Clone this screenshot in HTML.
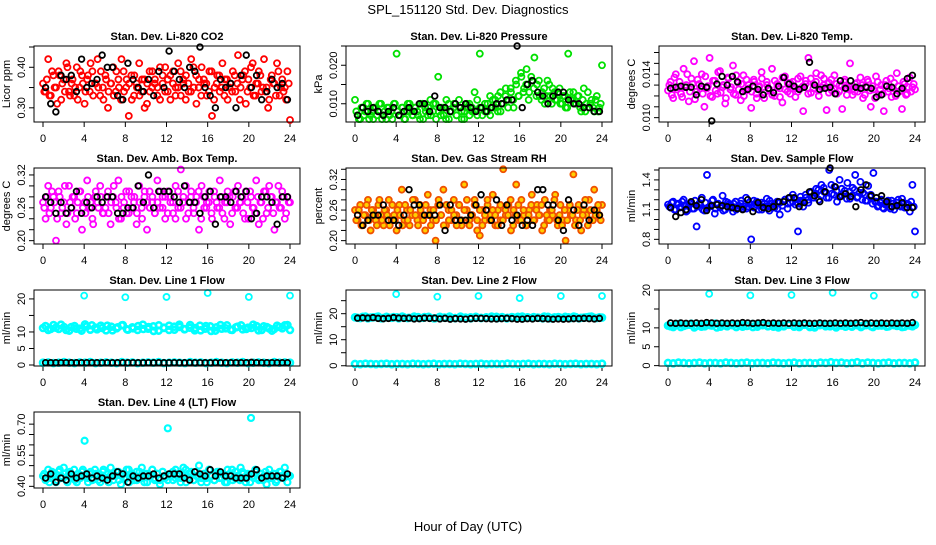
<!DOCTYPE html>
<html><head><meta charset="utf-8"><style>
body{margin:0;background:#fff}
svg text{font-family:"Liberation Sans",sans-serif}
</style></head><body>
<svg id="chart" width="936" height="540" viewBox="0 0 936 540" xmlns="http://www.w3.org/2000/svg">
<rect width="936" height="540" fill="#fff"/>
<text x="468" y="14" font-size="13" text-anchor="middle">SPL_151120  Std. Dev. Diagnostics</text>
<text x="468" y="531" font-size="13" text-anchor="middle">Hour of Day (UTC)</text>
</svg>
<script>
const xTicks=[0,4,8,12,16,20,24];
const co2Col=[0.36,0.34,0.42,0.33,0.38,0.35,0.39,0.32,0.37,0.41,0.34,0.36,0.33,0.40,0.35,0.38,0.31,0.37,0.34,0.39,0.36,0.42,0.33,0.35,0.38,0.30,0.36,0.40,0.34,0.37,0.32,0.39,0.35,0.28,0.38,0.33,0.36,0.41,0.34,0.37,0.31,0.39,0.35,0.36,0.33,0.40,0.38,0.34,0.37,0.32,0.39,0.35,0.41,0.33,0.36,0.38,0.34,0.42,0.35,0.31,0.37,0.40,0.36,0.33,0.39,0.28,0.35,0.38,0.34,0.41,0.37,0.32,0.36,0.39,0.34,0.43,0.35,0.38,0.31,0.37,0.40,0.33,0.36,0.39,0.34,0.42,0.35,0.32,0.38,0.36,0.41,0.33,0.37,0.35,0.39,0.27];
const co2Col2=[0.34,0.37,0.33,0.39,0.35,0.31,0.38,0.36,0.34,0.40,0.33,0.37,0.35,0.32,0.39,0.36,0.34,0.38,0.41,0.33,0.36,0.35,0.39,0.32,0.37,0.34,0.36,0.33,0.39,0.35,0.42,0.34,0.37,0.36,0.32,0.38,0.35,0.33,0.37,0.30,0.36,0.34,0.39,0.37,0.35,0.32,0.36,0.40,0.34,0.38,0.36,0.33,0.35,0.39,0.37,0.32,0.36,0.34,0.40,0.38,0.35,0.33,0.37,0.36,0.34,0.39,0.32,0.36,0.38,0.35,0.33,0.37,0.35,0.34,0.38,0.36,0.32,0.37,0.39,0.34,0.35,0.41,0.33,0.36,0.38,0.35,0.34,0.30,0.37,0.36,0.33,0.39,0.35,0.34,0.32,0.36];
const co2Blk=[0.35,0.31,0.29,0.38,0.37,0.38,0.34,0.42,0.35,0.36,0.37,0.43,0.40,0.40,0.33,0.32,0.41,0.37,0.35,0.34,0.37,0.33,0.39,0.35,0.44,0.39,0.37,0.35,0.40,0.39,0.45,0.35,0.33,0.30,0.37,0.35,0.36,0.30,0.38,0.43,0.35,0.38,0.32,0.34,0.37,0.35,0.36,0.32];
const presCol=[0.011,0.007,0.006,0.009,0.008,0.010,0.007,0.006,0.009,0.008,0.010,0.007,0.006,0.009,0.008,0.010,0.023,0.007,0.009,0.006,0.008,0.010,0.007,0.009,0.008,0.006,0.010,0.009,0.007,0.011,0.008,0.010,0.017,0.007,0.009,0.006,0.010,0.008,0.009,0.007,0.011,0.008,0.006,0.009,0.010,0.008,0.013,0.007,0.023,0.009,0.008,0.010,0.007,0.011,0.009,0.012,0.008,0.010,0.014,0.011,0.013,0.009,0.015,0.012,0.017,0.014,0.019,0.013,0.016,0.022,0.015,0.012,0.013,0.010,0.016,0.012,0.014,0.011,0.013,0.010,0.012,0.009,0.023,0.011,0.013,0.010,0.012,0.008,0.014,0.010,0.009,0.011,0.008,0.012,0.009,0.020];
const presCol2=[0.008,0.006,0.009,0.007,0.010,0.006,0.008,0.009,0.007,0.010,0.006,0.008,0.009,0.007,0.006,0.010,0.008,0.007,0.009,0.006,0.010,0.008,0.007,0.009,0.007,0.010,0.006,0.008,0.009,0.007,0.010,0.006,0.008,0.009,0.007,0.011,0.006,0.008,0.010,0.007,0.009,0.006,0.008,0.010,0.007,0.009,0.008,0.011,0.009,0.007,0.010,0.008,0.012,0.009,0.011,0.008,0.013,0.010,0.012,0.009,0.014,0.011,0.016,0.012,0.018,0.013,0.015,0.011,0.017,0.014,0.012,0.016,0.011,0.014,0.012,0.015,0.010,0.013,0.011,0.014,0.010,0.012,0.009,0.013,0.011,0.010,0.012,0.009,0.011,0.008,0.013,0.010,0.009,0.011,0.008,0.010];
const presBlk=[0.007,0.009,0.008,0.009,0.008,0.007,0.008,0.009,0.007,0.008,0.009,0.008,0.010,0.010,0.008,0.012,0.009,0.009,0.008,0.010,0.009,0.010,0.009,0.008,0.009,0.008,0.009,0.010,0.010,0.011,0.011,0.025,0.009,0.015,0.016,0.013,0.012,0.010,0.012,0.013,0.013,0.011,0.010,0.010,0.009,0.009,0.008,0.008];
const tempCol=[0.0125,0.0133,0.0118,0.0140,0.0128,0.0122,0.0145,0.0130,0.0115,0.0136,0.0152,0.0124,0.0131,0.0140,0.0110,0.0127,0.0155,0.0119,0.0134,0.0122,0.0143,0.0128,0.0113,0.0137,0.0126,0.0148,0.0121,0.0132,0.0116,0.0139,0.0125,0.0130,0.0109,0.0135,0.0122,0.0128,0.0142,0.0118,0.0133,0.0126,0.0145,0.0120,0.0131,0.0127,0.0114,0.0138,0.0124,0.0132,0.0129,0.0119,0.0136,0.0127,0.0106,0.0134,0.0155,0.0123,0.0131,0.0141,0.0120,0.0128,0.0136,0.0107,0.0132,0.0125,0.0139,0.0122,0.0130,0.0108,0.0135,0.0127,0.0150,0.0121,0.0131,0.0124,0.0137,0.0118,0.0129,0.0133,0.0110,0.0126,0.0138,0.0121,0.0130,0.0106,0.0134,0.0127,0.0119,0.0132,0.0141,0.0124,0.0108,0.0131,0.0122,0.0137,0.0128,0.0126];
const tempCol2=[0.0130,0.0121,0.0137,0.0126,0.0133,0.0119,0.0128,0.0140,0.0124,0.0131,0.0117,0.0135,0.0127,0.0122,0.0138,0.0129,0.0120,0.0134,0.0125,0.0142,0.0123,0.0130,0.0118,0.0136,0.0128,0.0122,0.0139,0.0126,0.0131,0.0120,0.0135,0.0127,0.0124,0.0133,0.0118,0.0129,0.0136,0.0123,0.0130,0.0125,0.0121,0.0134,0.0128,0.0119,0.0137,0.0126,0.0132,0.0122,0.0133,0.0127,0.0124,0.0138,0.0129,0.0131,0.0122,0.0136,0.0127,0.0133,0.0125,0.0139,0.0130,0.0128,0.0123,0.0135,0.0127,0.0131,0.0124,0.0129,0.0133,0.0121,0.0128,0.0126,0.0124,0.0132,0.0127,0.0130,0.0121,0.0135,0.0125,0.0129,0.0118,0.0133,0.0126,0.0122,0.0130,0.0124,0.0136,0.0127,0.0120,0.0129,0.0125,0.0133,0.0121,0.0128,0.0124,0.0131];
const tempBlk=[0.0127,0.0128,0.0129,0.0128,0.0128,0.0121,0.0129,0.0128,0.0097,0.0131,0.0138,0.0130,0.0138,0.0133,0.0124,0.0126,0.0129,0.0126,0.0121,0.0127,0.0123,0.0129,0.0137,0.0131,0.0129,0.0126,0.0128,0.0151,0.0130,0.0126,0.0127,0.0128,0.0122,0.0134,0.0127,0.0134,0.0128,0.0127,0.0128,0.0127,0.0119,0.0121,0.0129,0.0128,0.0122,0.0127,0.0136,0.0139];
const ambCol=[0.27,0.24,0.30,0.26,0.28,0.20,0.29,0.25,0.27,0.23,0.30,0.26,0.28,0.25,0.29,0.22,0.27,0.31,0.26,0.24,0.28,0.27,0.30,0.25,0.26,0.29,0.23,0.28,0.27,0.31,0.24,0.26,0.29,0.25,0.28,0.27,0.23,0.30,0.26,0.28,0.22,0.29,0.27,0.25,0.31,0.26,0.28,0.24,0.29,0.27,0.25,0.30,0.26,0.33,0.28,0.24,0.27,0.29,0.25,0.28,0.22,0.30,0.26,0.27,0.29,0.24,0.28,0.26,0.31,0.25,0.27,0.29,0.23,0.28,0.26,0.30,0.27,0.25,0.29,0.24,0.28,0.26,0.31,0.23,0.27,0.29,0.25,0.30,0.28,0.22,0.27,0.26,0.29,0.24,0.28,0.27];
const ambCol2=[0.26,0.28,0.25,0.29,0.27,0.24,0.28,0.26,0.30,0.25,0.27,0.28,0.24,0.27,0.29,0.26,0.25,0.28,0.27,0.23,0.29,0.26,0.28,0.25,0.28,0.25,0.27,0.30,0.26,0.24,0.28,0.27,0.25,0.29,0.26,0.28,0.25,0.27,0.24,0.29,0.27,0.26,0.28,0.25,0.27,0.29,0.26,0.28,0.25,0.28,0.27,0.24,0.29,0.26,0.27,0.30,0.25,0.28,0.26,0.27,0.29,0.24,0.28,0.26,0.27,0.25,0.29,0.27,0.26,0.28,0.24,0.27,0.28,0.25,0.29,0.26,0.27,0.28,0.24,0.27,0.29,0.26,0.25,0.28,0.27,0.24,0.29,0.26,0.28,0.25,0.27,0.30,0.26,0.28,0.25,0.27];
const ambBlk=[0.28,0.27,0.25,0.27,0.25,0.26,0.29,0.25,0.27,0.26,0.28,0.27,0.28,0.28,0.25,0.25,0.26,0.26,0.30,0.27,0.32,0.26,0.29,0.29,0.29,0.28,0.27,0.30,0.27,0.27,0.25,0.28,0.29,0.23,0.28,0.28,0.27,0.29,0.28,0.29,0.24,0.25,0.28,0.28,0.27,0.23,0.28,0.28];
const rhCol=[0.26,0.24,0.27,0.23,0.25,0.28,0.22,0.26,0.24,0.27,0.25,0.23,0.26,0.28,0.24,0.25,0.22,0.27,0.30,0.24,0.26,0.23,0.25,0.28,0.24,0.27,0.25,0.22,0.29,0.26,0.24,0.20,0.27,0.25,0.30,0.23,0.26,0.24,0.28,0.25,0.27,0.23,0.31,0.26,0.24,0.25,0.28,0.22,0.21,0.26,0.24,0.27,0.25,0.29,0.23,0.26,0.24,0.34,0.25,0.27,0.22,0.26,0.31,0.24,0.28,0.25,0.23,0.26,0.29,0.24,0.27,0.25,0.22,0.28,0.24,0.26,0.25,0.29,0.23,0.27,0.24,0.20,0.26,0.25,0.33,0.24,0.27,0.22,0.26,0.25,0.28,0.24,0.30,0.26,0.25,0.27];
const rhCol2=[0.24,0.26,0.23,0.25,0.27,0.24,0.26,0.25,0.23,0.28,0.24,0.26,0.25,0.23,0.27,0.24,0.26,0.25,0.23,0.27,0.24,0.26,0.28,0.25,0.23,0.26,0.24,0.27,0.25,0.23,0.26,0.24,0.28,0.25,0.23,0.27,0.24,0.26,0.25,0.23,0.27,0.24,0.26,0.28,0.23,0.25,0.27,0.24,0.26,0.23,0.25,0.28,0.24,0.26,0.25,0.23,0.27,0.24,0.26,0.25,0.28,0.23,0.25,0.27,0.24,0.26,0.23,0.25,0.27,0.24,0.26,0.25,0.27,0.23,0.25,0.24,0.26,0.28,0.24,0.25,0.23,0.26,0.24,0.27,0.25,0.23,0.26,0.24,0.25,0.28,0.23,0.26,0.24,0.25,0.27,0.24];
const rhBlk=[0.25,0.23,0.24,0.25,0.25,0.27,0.24,0.24,0.23,0.25,0.30,0.27,0.27,0.25,0.25,0.25,0.27,0.22,0.27,0.24,0.24,0.24,0.25,0.27,0.29,0.26,0.24,0.28,0.23,0.27,0.24,0.25,0.23,0.24,0.23,0.30,0.30,0.27,0.27,0.24,0.22,0.28,0.26,0.23,0.27,0.24,0.26,0.25];
const flowCol=[1.15,1.12,1.18,1.10,1.16,1.13,1.20,1.08,1.14,1.17,1.11,0.93,1.16,1.22,1.09,1.45,1.13,1.19,1.06,1.15,1.12,1.24,1.10,1.17,1.14,1.08,1.18,1.12,1.16,1.11,1.22,1.13,0.80,1.19,1.15,1.10,1.17,1.13,1.21,1.09,1.16,1.12,1.18,1.05,1.14,1.20,1.11,1.17,1.25,1.15,0.88,1.19,1.13,1.22,1.17,1.27,1.24,1.31,1.20,1.35,1.28,1.22,1.50,1.26,1.33,1.18,1.40,1.24,1.29,1.37,1.21,1.32,1.45,1.23,1.38,1.27,1.19,1.34,1.25,1.47,1.18,1.14,1.20,1.11,1.16,1.13,1.19,1.10,1.17,1.14,1.21,1.12,1.16,1.08,1.35,0.88];
const flowCol2=[1.13,1.17,1.10,1.15,1.12,1.18,1.14,1.09,1.16,1.11,1.19,1.13,1.15,1.10,1.17,1.12,1.14,1.20,1.11,1.16,1.13,1.09,1.18,1.15,1.12,1.16,1.10,1.14,1.19,1.13,1.11,1.17,1.15,1.12,1.18,1.14,1.10,1.16,1.13,1.19,1.12,1.15,1.11,1.17,1.14,1.20,1.16,1.22,1.18,1.21,1.16,1.23,1.19,1.25,1.20,1.28,1.22,1.26,1.30,1.24,1.32,1.27,1.22,1.35,1.25,1.29,1.23,1.31,1.26,1.21,1.28,1.24,1.30,1.22,1.27,1.20,1.25,1.19,1.23,1.16,1.18,1.13,1.17,1.12,1.15,1.19,1.11,1.16,1.14,1.20,1.13,1.17,1.12,1.15,1.18,1.13];
const flowBlk=[1.12,1.03,1.07,1.10,1.18,1.14,1.20,1.09,1.14,1.15,1.14,1.13,1.12,1.11,1.10,1.20,1.08,1.17,1.12,1.11,1.13,1.18,1.18,1.22,1.22,1.13,1.17,1.28,1.24,1.18,1.28,1.52,1.33,1.23,1.26,1.23,1.13,1.30,1.35,1.24,1.22,1.24,1.18,1.13,1.14,1.17,1.12,1.12];
const spikeHours=[4,8,12,16,20,24];
const l1Band=[11.2,10.6,12.1,10.9,11.5,10.4,11.8,11.0,12.3,10.7,11.3,11.9,10.5,11.6,11.1,12.0,10.8,11.4,10.6,12.2,11.0,11.7,10.4,11.3,11.9,10.7,11.5,10.9,12.1,11.2,10.5,11.8,10.3,11.4,11.0,12.0,10.6,11.6,10.8,11.3,12.2,10.5,11.7,11.1,10.9,11.5,12.0,10.6];
const l1Band2=[11.8,10.9,11.3,12.2,10.6,11.5,11.0,10.4,11.7,12.0,10.8,11.2,11.9,10.5,11.4,12.1,10.7,11.1,11.8,10.9,11.5,10.3,12.0,11.2,10.6,11.6,12.2,10.8,11.3,10.5,11.9,11.0,11.7,10.4,12.1,11.1,10.7,11.4,12.0,10.9,11.2,11.8,10.6,11.5,10.4,11.9,11.1,12.1];
const l1Low=[0.7,0.8,0.6,0.7,0.9,0.7,0.6,0.8,0.7,0.9,0.6,0.7,0.8,0.7,0.6,0.9,0.7,0.8,0.6,0.7,0.8,0.7,0.9,0.6,0.7,0.8,0.7,0.6,0.9,0.7,0.8,0.6,0.7,0.9,0.7,0.6,0.8,0.7,0.9,0.6,0.7,0.8,0.7,0.6,0.9,0.7,0.8,0.7];
const l1Spike=[21.0,20.5,20.6,21.8,20.6,21.0];
const l1Blk=[0.7,0.7,0.7,0.7,0.7,0.7,0.7,0.7,0.7,0.7,0.7,0.7,0.7,0.7,0.7,0.7,0.7,0.7,0.7,0.7,0.7,0.7,0.7,0.7,0.7,0.7,0.7,0.7,0.7,0.7,0.7,0.7,0.7,0.7,0.7,0.7,0.7,0.7,0.7,0.7,0.8,0.7,0.7,0.7,0.7,0.7,0.7,0.7];
const l2Band=[18.6,18.3,18.9,18.5,18.7,18.2,18.8,18.4,18.6,18.9,18.3,18.5,18.7,18.4,18.8,18.2,18.6,18.5,18.9,18.3,18.7,18.4,18.6,18.8,18.3,18.5,18.9,18.2,18.7,18.4,18.6,18.8,18.3,18.5,18.7,18.4,18.9,18.2,18.6,18.5,18.8,18.3,18.7,18.4,18.6,18.9,18.3,18.5];
const l2Band2=[18.4,18.8,18.2,18.6,18.9,18.3,18.5,18.7,18.2,18.6,18.4,18.9,18.3,18.7,18.5,18.2,18.8,18.4,18.6,18.3,18.9,18.5,18.2,18.7,18.4,18.6,18.3,18.8,18.5,18.2,18.7,18.4,18.9,18.6,18.3,18.5,18.2,18.8,18.4,18.7,18.3,18.6,18.9,18.2,18.5,18.8,18.4,18.6];
const l2Low=[0.7,0.6,0.8,0.7,0.6,0.7,0.8,0.6,0.7,0.7,0.6,0.8,0.7,0.6,0.7,0.8,0.6,0.7,0.7,0.6,0.8,0.7,0.6,0.7,0.8,0.6,0.7,0.7,0.6,0.8,0.7,0.6,0.7,0.8,0.6,0.7,0.7,0.6,0.8,0.7,0.6,0.7,0.8,0.6,0.7,0.7,0.6,0.8];
const l2Spike=[27.5,26.5,26.8,26.0,26.8,26.8];
const l2Blk=[18.3,18.4,18.3,18.5,18.2,18.1,18.2,18.5,18.3,18.2,18.3,18.0,18.1,18.3,18.2,18.3,18.0,18.2,17.9,18.1,18.0,17.9,18.1,18.2,18.2,18.1,18.0,18.0,18.1,18.2,18.1,17.9,17.9,18.1,18.0,18.2,18.1,18.0,17.9,18.0,17.9,18.0,18.1,18.1,18.2,18.1,18.0,18.2];
const l3Band=[10.6,10.2,11.0,10.5,10.8,10.1,10.9,10.4,10.7,11.1,10.3,10.6,10.9,10.2,10.8,10.5,11.0,10.3,10.7,10.4,10.9,10.1,10.6,10.8,10.3,10.7,11.0,10.2,10.5,10.9,10.4,10.8,10.1,10.6,11.0,10.3,10.7,10.5,10.9,10.2,10.6,10.8,10.4,10.7,11.0,10.3,10.6,10.8];
const l3Band2=[10.4,10.9,10.2,10.7,11.1,10.5,10.3,10.8,10.6,10.1,11.0,10.4,10.7,10.9,10.3,10.6,10.2,10.8,11.0,10.5,10.3,10.7,10.4,10.9,10.6,10.2,10.8,10.5,10.1,10.7,11.0,10.4,10.6,10.9,10.3,10.5,10.8,10.2,10.7,10.4,11.0,10.6,10.3,10.9,10.5,10.2,10.7,10.4];
const l3Low=[0.7,0.6,0.8,0.7,0.6,0.7,0.8,0.6,0.7,0.7,0.6,0.8,0.7,0.6,0.7,0.8,0.6,0.7,0.7,0.6,0.8,0.7,0.6,0.7,0.8,0.6,0.7,0.7,0.6,0.8,0.7,0.9,0.7,0.8,0.6,0.7,0.9,0.6,0.8,0.7,0.6,0.7,0.8,0.6,0.7,0.7,0.6,0.8];
const l3Spike=[19.0,18.6,18.7,19.3,18.5,18.8];
const l3Blk=[11.3,11.2,11.3,11.2,11.2,11.3,11.2,11.4,11.3,11.2,11.3,11.2,11.3,11.2,11.4,11.3,11.2,11.3,11.4,11.2,11.3,11.2,11.3,11.2,11.3,11.2,11.3,11.2,11.2,11.3,11.2,11.2,11.3,11.2,11.3,11.2,11.3,11.4,11.2,11.3,11.2,11.3,11.2,11.3,11.2,11.3,11.2,11.4];
const l4Col=[0.45,0.43,0.48,0.44,0.46,0.42,0.47,0.45,0.49,0.43,0.46,0.44,0.48,0.42,0.45,0.47,0.62,0.44,0.46,0.43,0.48,0.45,0.42,0.47,0.44,0.46,0.49,0.43,0.45,0.47,0.41,0.46,0.44,0.48,0.45,0.43,0.47,0.44,0.49,0.42,0.46,0.45,0.48,0.43,0.46,0.41,0.47,0.44,0.68,0.46,0.43,0.48,0.45,0.44,0.49,0.42,0.46,0.47,0.43,0.45,0.50,0.44,0.46,0.42,0.48,0.45,0.43,0.47,0.44,0.46,0.42,0.48,0.45,0.43,0.47,0.44,0.49,0.46,0.42,0.45,0.73,0.44,0.47,0.43,0.46,0.45,0.41,0.48,0.44,0.46,0.43,0.47,0.45,0.49,0.42,0.45];
const l4Col2=[0.46,0.44,0.42,0.47,0.45,0.43,0.48,0.44,0.46,0.42,0.47,0.45,0.43,0.46,0.44,0.48,0.45,0.42,0.47,0.44,0.46,0.43,0.45,0.48,0.44,0.42,0.46,0.45,0.47,0.43,0.45,0.44,0.48,0.42,0.46,0.45,0.43,0.47,0.44,0.46,0.42,0.45,0.48,0.44,0.46,0.43,0.47,0.45,0.43,0.45,0.47,0.44,0.46,0.42,0.45,0.48,0.44,0.46,0.43,0.47,0.45,0.42,0.46,0.44,0.48,0.45,0.43,0.46,0.47,0.44,0.45,0.42,0.46,0.48,0.44,0.45,0.43,0.47,0.44,0.46,0.42,0.45,0.48,0.44,0.46,0.43,0.47,0.45,0.44,0.46,0.42,0.45,0.47,0.44,0.46,0.45];
const l4Blk=[0.44,0.46,0.42,0.44,0.43,0.46,0.44,0.45,0.46,0.44,0.45,0.44,0.43,0.45,0.47,0.46,0.42,0.45,0.44,0.45,0.45,0.46,0.44,0.45,0.46,0.46,0.46,0.44,0.43,0.47,0.46,0.45,0.48,0.45,0.47,0.45,0.45,0.44,0.44,0.44,0.46,0.48,0.44,0.45,0.45,0.45,0.44,0.46];

const NS='http://www.w3.org/2000/svg';
const svg=document.getElementById('chart');
const colL=[34,346,659], rowT=[46,168,290,412], BW=266, BH=76;
function ev(n){const o=[];for(let i=0;i<n;i++)o.push(i*24/(n-1));return o;}
function evOff(n){const o=[];for(let i=0;i<n;i++)o.push((i+0.5)*24/n);return o;}
function mk(tag,attrs,parent){const e=document.createElementNS(NS,tag);for(const k in attrs)e.setAttribute(k,attrs[k]);(parent||svg).appendChild(e);return e;}
const panels=[
 {id:'co2',title:'Stan. Dev. Li-820 CO2',ylab:'Licor ppm',c:0,r:0,ylim:[0.265,0.4525],yt:[0.30,0.35,0.40,0.45],yl:[0.30,0.40],dec:2,
  series:[{v:co2Col,col:'#ff0000'},{v:co2Col2,col:'#ff0000',off:1},{v:co2Blk,col:'#000',blk:1}]},
 {id:'pressure',title:'Stan. Dev. Li-820 Pressure',ylab:'kPa',c:1,r:0,ylim:[0.00526,0.025],yt:[0.010,0.015,0.020,0.025],yl:[0.010,0.020],dec:3,
  series:[{v:presCol,col:'#00e000'},{v:presCol2,col:'#00e000',off:1},{v:presBlk,col:'#000',blk:1}]},
 {id:'temp',title:'Stan. Dev. Li-820 Temp.',ylab:'degrees C',c:2,r:0,ylim:[0.0096,0.0166],yt:[0.010,0.011,0.012,0.013,0.014,0.015,0.016],yl:[0.010,0.014],dec:3,
  series:[{v:tempCol,col:'#ff00ff'},{v:tempCol2,col:'#ff00ff',off:1},{v:tempBlk,col:'#000',blk:1}]},
 {id:'ambbox',title:'Stan. Dev. Amb. Box Temp.',ylab:'degrees C',c:0,r:1,ylim:[0.1939,0.3327],yt:[0.20,0.22,0.24,0.26,0.28,0.30,0.32],yl:[0.20,0.26,0.32],dec:2,
  series:[{v:ambCol,col:'#ff00ff'},{v:ambCol2,col:'#ff00ff',off:1},{v:ambBlk,col:'#000',blk:1}]},
 {id:'rh',title:'Stan. Dev. Gas Stream RH',ylab:'percent',c:1,r:1,ylim:[0.1934,0.3425],yt:[0.20,0.22,0.24,0.26,0.28,0.30,0.32,0.34],yl:[0.20,0.26,0.32],dec:2,
  series:[{v:rhCol,col:'#f05000',fill:'#ffd000'},{v:rhCol2,col:'#f05000',fill:'#ffd000',off:1},{v:rhBlk,col:'#000',blk:1}]},
 {id:'sampleflow',title:'Stan. Dev. Sample Flow',ylab:'ml/min',c:2,r:1,ylim:[0.753,1.52],yt:[0.8,0.9,1.0,1.1,1.2,1.3,1.4,1.5],yl:[0.8,1.1,1.4],dec:1,
  series:[{v:flowCol,col:'#0000ff'},{v:flowCol2,col:'#0000ff',off:1},{v:flowBlk,col:'#000',blk:1}]},
 {id:'line1',title:'Stan. Dev. Line 1 Flow',ylab:'ml/min',c:0,r:2,ylim:[-0.3,22.7],yt:[0,5,10,15,20],yl:[0,5,10,20],dec:0,
  series:[{v:l1Band,col:'#00ffff',w:2.6},{v:l1Band2,col:'#00ffff',w:2.6,off:1},{v:l1Low,col:'#00ffff',w:2.6},{v:l1Spike,h:spikeHours,col:'#00ffff'},{v:l1Blk,col:'#000',blk:1}]},
 {id:'line2',title:'Stan. Dev. Line 2 Flow',ylab:'ml/min',c:1,r:2,ylim:[-0.1,29.1],yt:[0,5,10,15,20,25],yl:[0,10,20],dec:0,
  series:[{v:l2Band,col:'#00ffff',w:2.6},{v:l2Band2,col:'#00ffff',w:2.6,off:1},{v:l2Low,col:'#00ffff',w:2.6},{v:l2Spike,h:spikeHours,col:'#00ffff'},{v:l2Blk,col:'#000',blk:1}]},
 {id:'line3',title:'Stan. Dev. Line 3 Flow',ylab:'ml/min',c:2,r:2,ylim:[-0.1,20.03],yt:[0,5,10,15,20],yl:[0,5,10,20],dec:0,
  series:[{v:l3Band,col:'#00ffff',w:2.6},{v:l3Band2,col:'#00ffff',w:2.6,off:1},{v:l3Low,col:'#00ffff',w:2.6},{v:l3Spike,h:spikeHours,col:'#00ffff'},{v:l3Blk,col:'#000',blk:1}]},
 {id:'line4',title:'Stan. Dev. Line 4 (LT) Flow',ylab:'ml/min',c:0,r:3,ylim:[0.392,0.7586],yt:[0.40,0.45,0.50,0.55,0.60,0.65,0.70],yl:[0.40,0.55,0.70],dec:2,
  series:[{v:l4Col,col:'#00ffff',w:2.2},{v:l4Col2,col:'#00ffff',w:2.2,off:1},{v:l4Blk,col:'#000',blk:1}]}
];
panels.forEach(p=>{
  const L=colL[p.c], T=rowT[p.r];
  const g=mk('g',{});
  
  
  const xs=h=>L+9+h*(247/24);
  const ys=v=>T+BH-(v-p.ylim[0])/(p.ylim[1]-p.ylim[0])*BH;
  const t=mk('text',{x:L+BW/2,y:T-6,'font-size':11,'font-weight':'bold','text-anchor':'middle'},g);
  t.textContent=p.title;
  
  
  xTicks.forEach(h=>{
    mk('line',{x1:xs(h),x2:xs(h),y1:T+BH,y2:T+BH+5,stroke:'#000'},g);
    const lt=mk('text',{x:xs(h),y:T+BH+20,'font-size':11,'text-anchor':'middle'},g);
    lt.textContent=h;
    
    
  });
  p.yt.forEach(v=>{
    mk('line',{x1:L-5,x2:L,y1:ys(v),y2:ys(v),stroke:'#000'},g);
  });
  p.yl.forEach(v=>{
    const yy=ys(v), xx=L-9;
    const lt=mk('text',{x:xx,y:yy,'font-size':11,'text-anchor':'middle',transform:`rotate(-90 ${xx} ${yy})`},g);
    lt.textContent=v.toFixed(p.dec);
    
    
  });
  const yl=mk('text',{x:L-24,y:T+BH/2,'font-size':11,'text-anchor':'middle',transform:`rotate(-90 ${L-24} ${T+BH/2})`},g);
  yl.textContent=p.ylab;
  
  
  p.series.forEach(s=>{
    const hrs=s.h?s.h:(s.blk?s.v.map((_,i)=>0.25+i*(23.5/(s.v.length-1))):(s.off?evOff(s.v.length):ev(s.v.length)));
    s.v.forEach((v,i)=>{
      const c=mk('circle',{cx:xs(hrs[i]),cy:ys(v),r:s.blk?2.8:3,fill:s.fill||'none',stroke:s.col,'stroke-width':s.w||1.8},g);
      
      
    });
  });
  const b=mk('rect',{x:L,y:T,width:BW,height:BH,fill:'none',stroke:'#000','stroke-width':1},g);
  
  
});
</script>
</body></html>
